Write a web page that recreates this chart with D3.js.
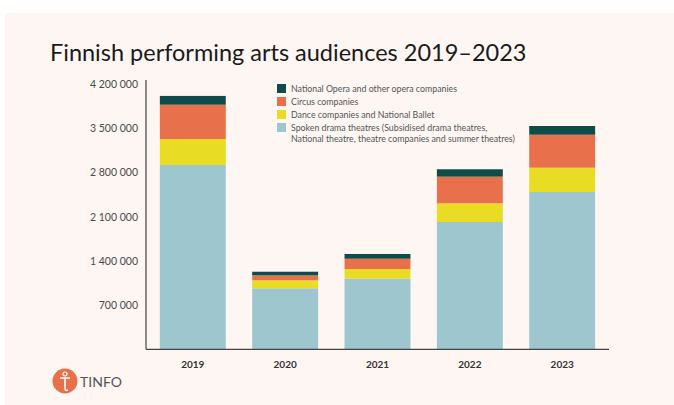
<!DOCTYPE html>
<html>
<head>
<meta charset="utf-8">
<script src="https://cdn.jsdelivr.net/npm/d3@7"></script>
<style>
  html, body { margin: 0; padding: 0; background: #ffffff; }
  svg { display: block; }
  text { font-family: Lato, "Noto Sans", sans-serif; }
</style>
</head>
<body>
<svg id="chart" width="674" height="405"></svg>
<script>
// ── Data ────────────────────────────────────────────────────────────────
const years = ['2019', '2020', '2021', '2022', '2023'];
const spokenDrama = [2918000, 966000, 1118000, 2015000, 2490000];
const dance = [411000, 126000, 153000, 296000, 385000];
const circus = [543000, 79000, 163000, 422000, 522000];
const opera = [139000, 57000, 75000, 117000, 138000];
const yTicks = [700000, 1400000, 2100000, 2800000, 3500000, 4200000];

const seriesKeys = ['spoken', 'dance', 'circus', 'opera'];
const seriesColors = {spoken: '#9dc6ce', dance: '#e9dc24', circus: '#e8714b', opera: '#0e4d47'};
const legendItems = [
  {key: 'opera', lines: ['National Opera and other opera companies']},
  {key: 'circus', lines: ['Circus companies']},
  {key: 'dance', lines: ['Dance companies and National Ballet']},
  {key: 'spoken', lines: ['Spoken drama theatres (Subsidised drama theatres,', 'National theatre, theatre companies and summer theatres)']}
];

// ── Layout ──────────────────────────────────────────────────────────────
const MARGINS = {left: 146, right: 609, top: 84, bottom: 349.3};

const rows = years.map((year, i) => ({
  year,
  spoken: spokenDrama[i],
  dance: dance[i],
  circus: circus[i],
  opera: opera[i]
}));

const svg = d3.select('#chart');

// panel background
svg.append('rect')
  .attr('x', 5).attr('y', 13)
  .attr('width', 674).attr('height', 405)
  .attr('fill', '#fdf6f3');

svg.append('text')
  .attr('x', 50).attr('y', 61)
  .attr('font-size', 23.5)
  .attr('fill', '#1a1a1a')
  .text('Finnish performing arts audiences 2019–2023');

const xScale = d3.scaleBand()
  .domain(years)
  .range([MARGINS.left, MARGINS.right])
  .paddingInner(0.286)
  .paddingOuter(0.15);

const yScale = d3.scaleLinear()
  .domain([0, 4200000])
  .range([MARGINS.bottom, MARGINS.top]);

const stacked = d3.stack().keys(seriesKeys)(rows);

svg.append('g')
  .selectAll('g')
  .data(stacked)
  .join('g')
  .attr('fill', (s) => seriesColors[s.key])
  .selectAll('rect')
  .data((s) => s)
  .join('rect')
  .attr('x', (d) => xScale(d.data.year))
  .attr('width', xScale.bandwidth())
  .attr('y', (d) => yScale(d[1]))
  .attr('height', (d) => yScale(d[0]) - yScale(d[1]));

// y axis
const fmt = (v) => d3.format(',')(v).replace(/,/g, ' ');
const yAxis = svg.append('g')
  .attr('transform', `translate(${MARGINS.left},0)`)
  .call(d3.axisLeft(yScale).tickValues(yTicks).tickFormat(fmt).tickSize(0).tickPadding(8));
yAxis.select('.domain')
  .attr('d', `M0,${MARGINS.top - 4}V${MARGINS.bottom}`)
  .attr('stroke', '#444').attr('stroke-width', 1.2);
yAxis.selectAll('text')
  .attr('font-size', 10.5)
  .attr('fill', '#4a4a4a')
  .attr('font-family', 'Lato, sans-serif');

// x axis
const xAxis = svg.append('g')
  .attr('transform', `translate(0,${MARGINS.bottom})`)
  .call(d3.axisBottom(xScale).tickSize(0).tickPadding(12).tickSizeOuter(0));
xAxis.select('.domain')
  .attr('d', `M${MARGINS.left},0H${MARGINS.right}`)
  .attr('stroke', '#444').attr('stroke-width', 1.2);
xAxis.selectAll('text')
  .attr('font-size', 10)
  .attr('font-weight', 'bold')
  .attr('fill', '#333')
  .attr('font-family', 'Lato, sans-serif');

// legend
const legend = svg.append('g').attr('transform', 'translate(277,84)');
let legendY = 0;
legendItems.forEach((item) => {
  legend.append('rect')
    .attr('x', 0).attr('y', legendY)
    .attr('width', 9).attr('height', 9)
    .attr('fill', seriesColors[item.key]);
  item.lines.forEach((line, j) => {
    legend.append('text')
      .attr('x', 14).attr('y', legendY + 7.5 + j * 11)
      .attr('font-size', 8.8)
      .attr('fill', '#555')
      .text(line);
  });
  legendY += 13;
});

// logo
const logo = svg.append('g').attr('transform', 'translate(65,381)');
logo.append('circle').attr('r', 12.5).attr('fill', '#e8714b');
logo.append('path')
  .attr('d', 'M-5,-3H5M0,-3V8M0,8Q0,10 3,9')
  .attr('stroke', '#fff').attr('stroke-width', 1.6).attr('fill', 'none');
logo.append('circle').attr('cx', 0).attr('cy', -7).attr('r', 2)
  .attr('stroke', '#fff').attr('stroke-width', 1.2).attr('fill', 'none');
svg.append('text')
  .attr('x', 80).attr('y', 387)
  .attr('font-size', 14)
  .attr('fill', '#555')
  .text('TINFO');
</script>
</body>
</html>
